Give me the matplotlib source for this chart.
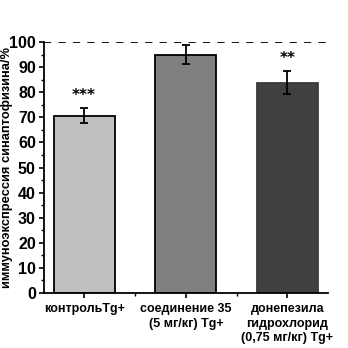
import matplotlib
matplotlib.use("Agg")
import matplotlib.pyplot as plt
from matplotlib.ticker import MultipleLocator, FixedLocator

plt.rcParams['font.family'] = ['Liberation Sans', 'DejaVu Sans']
plt.rcParams['font.weight'] = 'bold'

categories = ["контрольTg+", "соединение 35\n(5 мг/кг) Tg+", "донепезила\nгидрохлорид\n(0,75 мг/кг) Tg+"]
values = [70.6, 95.0, 83.9]
errors = [3.0, 3.9, 4.5]
stars = ["***", "", "**"]
colors = ["#c0c0c0", "#808080", "#404040"]
edges = ["#000000", "#000000", "#3a3a3a"]

fig = plt.figure(figsize=(3.48, 3.48), dpi=100)
ax = fig.add_axes([0.125, 0.158, 0.818, 0.721])

x = list(range(len(categories)))
ax.bar(x, values, width=0.6, color=colors, edgecolor=edges, linewidth=1.3, zorder=2)
ax.errorbar(x, values, yerr=errors, fmt='none', ecolor='black', elinewidth=1.3,
            capsize=3, capthick=1.3, zorder=3)
for xi, v, e, s in zip(x, values, errors, stars):
    if s:
        ax.text(xi, v + e + 2.0, s, ha='center', va='bottom', fontsize=11,
                fontweight='bold', family='DejaVu Sans')

ax.axhline(100, color='black', linestyle=(0, (4, 4)), linewidth=1.3, zorder=1)

ax.set_xlim(-0.4, 2.4)
ax.set_ylim(0, 100)
ax.set_xticks(x)
ax.set_xticklabels(categories, fontsize=9, fontweight='bold', linespacing=1.25)
ax.xaxis.set_minor_locator(FixedLocator([0.5, 1.5]))
ax.yaxis.set_major_locator(MultipleLocator(10))
ax.yaxis.set_minor_locator(MultipleLocator(5))
ax.tick_params(axis='both', which='major', direction='out', length=3.5, width=1.2, pad=2)
ax.tick_params(axis='both', which='minor', direction='out', length=2, width=1.0)
ax.tick_params(axis='y', labelsize=11.5)
ax.tick_params(axis='x', pad=4)

ax.spines['top'].set_visible(False)
ax.spines['right'].set_visible(False)
ax.spines['left'].set_linewidth(1.3)
ax.spines['bottom'].set_linewidth(1.3)

ax.set_ylabel("иммуноэкспрессия синаптофизина/%", fontsize=9.3, fontweight='bold')
ax.yaxis.set_label_coords(-0.108, 0.5)

fig.savefig("out.png", dpi=100)
